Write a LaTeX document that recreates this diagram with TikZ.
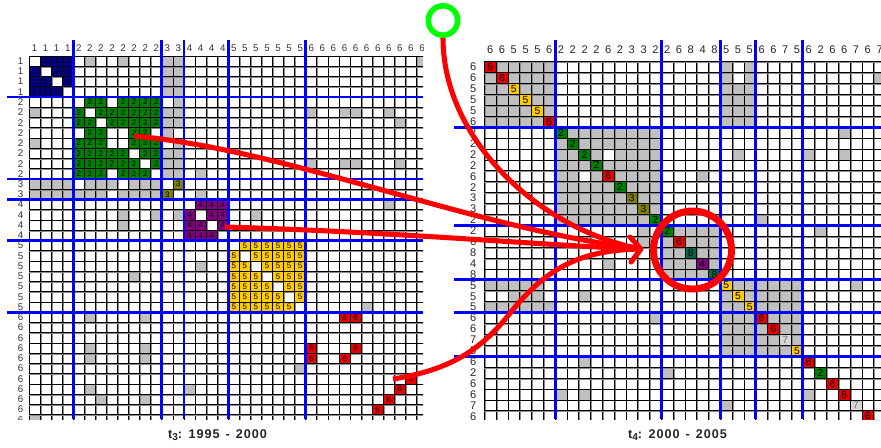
\documentclass[tikz,border=0pt]{standalone}
\usepackage{fontspec}
\setmainfont{Liberation Sans}
\newfontfamily\capfont[LetterSpace=7.5]{Liberation Sans}

% cell colours by community label
\definecolor{c1}{RGB}{0,0,128}
\definecolor{c2}{RGB}{0,128,0}
\definecolor{c3}{RGB}{128,128,0}
\definecolor{c4}{RGB}{128,0,128}
\definecolor{c5}{RGB}{255,204,0}
\definecolor{c6}{RGB}{230,0,0}
\definecolor{c7}{RGB}{215,215,215}
\definecolor{c8}{RGB}{0,105,70}
\colorlet{t1}{black}\colorlet{t2}{black}\colorlet{t3}{black}\colorlet{t4}{black}
\colorlet{t5}{black}\colorlet{t6}{black}\colorlet{t7}{black!55}\colorlet{t8}{black}
\definecolor{cellgray}{RGB}{192,192,192}
\definecolor{flowred}{RGB}{255,0,0}
\definecolor{ringgreen}{RGB}{0,255,0}
\definecolor{partblue}{RGB}{0,0,255}

% left matrix: origin (29,56), cell 11.07 x 10.25
\newcommand\Lgray[2]{\fill[cellgray] ({29+(#2)*11.07},{56+(#1)*10.25}) rectangle ++(11.07,10.25);}
\newcommand\Lhit[3]{%
  \filldraw[fill=c#3, hit] ({29+(#2)*11.07},{56+(#1)*10.25}) rectangle ++(11.07,10.25);
  \node[ldig, text=t#3] (L-#1-#2) at ({29+(#2+0.5)*11.07},{56+(#1+0.5)*10.25}) {#3};}
% right matrix: origin (484.3,61.7), cell 11.8 x 10.91
\newcommand\Rgray[2]{\fill[cellgray] ({484.3+(#2)*11.8},{61.7+(#1)*10.91}) rectangle ++(11.8,10.91);}
\newcommand\Rwhite[2]{\fill[white] ({484.3+(#2)*11.8},{61.7+(#1)*10.91}) rectangle ++(11.8,10.91);}
\newcommand\Rhit[3]{%
  \filldraw[fill=c#3, hit] ({484.3+(#2)*11.8},{61.7+(#1)*10.91}) rectangle ++(11.8,10.91);
  \node[rdig, text=t#3] (R-#1-#2) at ({484.3+(#2+0.5)*11.8},{61.7+(#1+0.5)*10.91}) {#3};}
\newcommand\subidx[1]{\raisebox{-0.35ex}{\fontsize{7.5}{7.5}\selectfont #1}}
% period caption with generous word gaps
\newcommand\period[3]{t\subidx{#1}:\hspace{5pt}#2\hspace{4.5pt}-\hspace{4.5pt}#3}

\begin{document}
\begin{tikzpicture}[x=0.75pt,y=-0.75pt,
  gridk/.style={black, line width=0.55pt},
  gridg/.style={black!45, line width=0.8pt},
  part/.style={partblue, line width=2.2pt},
  hit/.style={draw=black, line width=0.55pt},
  lbl/.style={font=\fontsize{7.3}{8}\selectfont, text=black!80, inner sep=0pt},
  rlbl/.style={font=\fontsize{8.3}{9}\selectfont, text=black!85, inner sep=0pt},
  ldig/.style={font=\fontsize{6}{6}\selectfont, inner sep=0pt},
  rdig/.style={font=\fontsize{7.8}{8}\selectfont, inner sep=0pt},
  flow/.style={flowred, line width=3.8pt},
  focusring/.style={circle, draw=flowred, line width=5.2pt, minimum size=58.5pt, inner sep=0pt},
  greenring/.style={circle, draw=ringgreen, line width=4.2pt, minimum size=22pt, inner sep=0pt},
  captxt/.style={font=\capfont\bfseries\fontsize{9.5}{11}\selectfont, text=black!85, inner sep=0pt}]
\useasboundingbox (0,0) rectangle (881,448);
\fill[white] (0,0) rectangle (881,448);

%% ---------------- left matrix (1995-2000) ----------------
\begin{scope}
\clip (0,0) rectangle (423,419.3);
% background entries
\foreach \k in {0,1,2,3,5,6,7,9,10,11} {\Lgray{\k}{12}\Lgray{12}{\k}}
\foreach \k in {0,1,2,3,4,5,6,8,9,10,11} {\Lgray{\k}{13}\Lgray{13}{\k}}
\foreach \r/\c in {0/5,0/8,5/0,8/0,0/35,5/25,5/28,5/29,5/32,6/33,10/25,10/28,10/29,10/33,
  11/15,13/15,14/32,15/8,15/11,15/13,15/20,16/8,20/15,21/9,24/30,25/5,25/10,28/5,28/10,
  29/5,29/10,30/24,32/5,32/14,33/6,33/10,35/0} {\Lgray{\r}{\c}}
% grid
\foreach \c in {0,...,36} {
  \draw[gridg] ({29+\c*11.07+0.9},56) -- ++(0,370);
  \draw[gridk] ({29+\c*11.07},56) -- ++(0,370);}
\foreach \r in {0,...,36} {
  \draw[gridg] (29,{56+\r*10.25+0.9}) -- ++(400,0);
  \draw[gridk] (29,{56+\r*10.25}) -- ++(400,0);}
% communities
\foreach \s/\n/\lab in {0/4/1, 14/4/4, 18/7/5} {
  \foreach \i in {1,...,\n} {\foreach \j in {1,...,\n} {
    \ifnum\i=\j\relax\else
      \pgfmathtruncatemacro\r{\s+\i-1}\pgfmathtruncatemacro\c{\s+\j-1}%
      \Lhit{\r}{\c}{\lab}%
    \fi}}}
\foreach \r/\cs in {4/{5,6,8,9,10,11}, 5/{4,6,7,8,9,10,11}, 6/{4,5,7,8,9,10,11},
  7/{5,6,9,10}, 8/{4,5,6,9,10,11}, 9/{4,5,6,7,8,10,11}, 10/{4,5,6,7,8,9,11},
  11/{4,5,6,8,9,10}} {\foreach \c in \cs {\Lhit{\r}{\c}{2}}}
\Lhit{12}{13}{3}\Lhit{13}{12}{3}
\foreach \r/\c in {25/28,25/29,28/25,28/29,29/25,29/28,31/34,32/33,33/32,34/31} {\Lhit{\r}{\c}{6}}
% partitions
\foreach \k in {4,12,14,18,25} {
  \draw[part] ({29+\k*11.07},40) -- ({29+\k*11.07},419.3);
  \draw[part] (7,{56+\k*10.25}) -- (423,{56+\k*10.25});}
% labels
\foreach \v [count=\i from 0] in {1,1,1,1,2,2,2,2,2,2,2,2,3,3,4,4,4,4,5,5,5,5,5,5,5,6,6,6,6,6,6,6,6,6,6,6} {
  \node[lbl] (Lc\i) at ({29+(\i+0.5)*11.07},48) {\v};
  \node[lbl] (Lr\i) at (20.5,{56+(\i+0.5)*10.25}) {\v};}
\end{scope}

%% ---------------- right matrix (2000-2005) ----------------
\begin{scope}
\clip (440,0) rectangle (881,419.3);
\foreach \r in {0,...,5} {\foreach \c in {0,...,5} {\Rgray{\r}{\c}}}
\foreach \r in {6,...,14} {\foreach \c in {6,...,14} {\Rgray{\r}{\c}}}
\Rwhite{8}{10}\Rwhite{10}{8}
\foreach \r in {15,...,19} {\foreach \c in {15,...,19} {\Rgray{\r}{\c}}}
\foreach \r in {20,...,26} {\foreach \c in {20,...,26} {\Rgray{\r}{\c}}}
\foreach \k in {0,...,5} {\Rgray{\k}{20}\Rgray{\k}{22}\Rgray{22}{\k}}
\foreach \k in {2,...,5} {\Rgray{\k}{21}}
\foreach \k in {0,...,4} {\Rgray{20}{\k}}
\foreach \k in {2,...,4} {\Rgray{21}{\k}}
\foreach \r/\c in {1/33,6/30,8/21,8/27,8/30,10/18,18/10,21/8,14/23,23/14,15/13,16/13,
  15/28,20/31,28/15,30/27,31/20,27/8,30/6,30/8} {\Rgray{\r}{\c}}
% grid
\foreach \c in {0,...,34} {
  \draw[gridg] ({484.3+\c*11.8+0.9},61.7) -- ++(0,365);
  \draw[gridk] ({484.3+\c*11.8},61.7) -- ++(0,365);}
\foreach \r in {0,...,33} {
  \draw[gridg] (484.3,{61.7+\r*10.91+0.9}) -- ++(405,0);
  \draw[gridk] (484.3,{61.7+\r*10.91}) -- ++(405,0);}
% diagonal
\foreach \v [count=\i from 0] in {6,6,5,5,5,6,2,2,2,2,6,2,3,3,2,2,6,8,4,8,5,5,5,6,6,7,5,6,2,6,6,7,6} {
  \Rhit{\i}{\i}{\v}}
% partitions
\foreach \k in {6,15,20,23,27} {
  \draw[part] ({484.3+\k*11.8},40) -- ({484.3+\k*11.8},419.3);
  \draw[part] (454,{61.7+\k*10.91}) -- (881,{61.7+\k*10.91});}
% labels
\foreach \v [count=\i from 0] in {6,6,5,5,5,6,2,2,2,2,6,2,3,3,2,2,6,8,4,8,5,5,5,6,6,7,5,6,2,6,6,7,6} {
  \node[rlbl] (Rr\i) at (473.3,{61.7+(\i+0.5)*10.91}) {\v};}
\foreach \v [count=\i from 0] in {6,6,5,5,5,6,2,2,2,2,6,2,3,3,2,2,6,8,4,8,5,5,5,6,6,7,5,6,2,6,6,7,6,7} {
  \node[rlbl] (Rc\i) at ({484.3+(\i+0.5)*11.8},49.3) {\v};}
\end{scope}

%% ---------------- highlights ----------------
\coordinate (srcA) at (134,136);
\coordinate (srcB) at (225,227);
\coordinate (srcC) at (393,379);
\coordinate (tip) at (641,249);
\coordinate (barbU) at (630,237);
\coordinate (barbD) at (631,262);
\node[greenring] (start) at (443,20.5) {};
\draw[flow] (srcA) .. controls (290,150) and (470,228) .. (tip);
\draw[flow] (srcB) .. controls (400,232) and (550,246) .. (tip);
\draw[flow] (srcC) .. controls (450,370) and (480,350) .. (507,317)
  .. controls (545,268) and (580,250) .. (tip);
\draw[flow] (start.south) .. controls (443,140) and (540,230) .. (tip);
\draw[flow, line cap=round, line join=round] (barbU) -- (tip) -- (barbD);
\node[focusring] (focus) at (692.5,250) {};

%% ---------------- captions ----------------
\node[captxt] (capL) at (217.5,435) {\period{3}{1995}{2000}};
\node[captxt] (capR) at (677.5,435) {\period{4}{2000}{2005}};
\end{tikzpicture}
\end{document}
